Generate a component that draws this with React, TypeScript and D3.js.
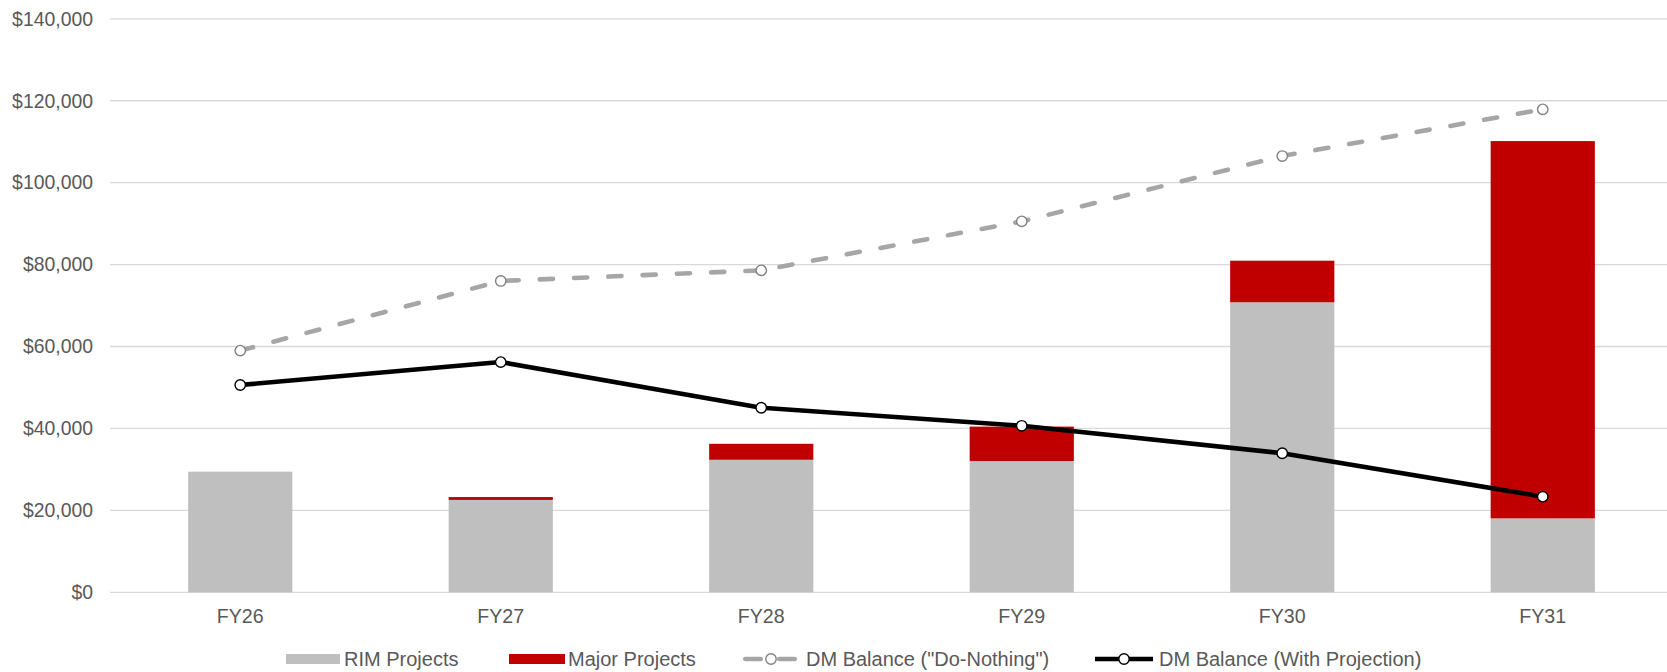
import React from "react";
import * as d3 from "d3";

// Fiscal years on the category axis
const categories = ["FY26", "FY27", "FY28", "FY29", "FY30", "FY31"];

// Stacked bar series
const rimProjects = [29450, 22550, 32350, 32050, 70800, 18050];
const majorProjects = [0, 700, 3900, 8400, 10150, 92100];

// Balance lines
const dmDoNothing = [59000, 76000, 78600, 90550, 106500, 117900];
const dmWithProjection = [50600, 56200, 45050, 40650, 33950, 23350];

// Value axis ticks
const yTicks = [0, 20000, 40000, 60000, 80000, 100000, 120000, 140000];

const legendLabels = {
  rim: "RIM Projects",
  major: "Major Projects",
  doNothing: 'DM Balance ("Do-Nothing")',
  withProj: "DM Balance (With Projection)",
};

const W = 1667;
const H = 672;
const FONT = "'Liberation Sans', Arial, sans-serif";
const TEXT = "#595959";
const GRID = "#D9D9D9";
const GRAY_BAR = "#BFBFBF";
const RED_BAR = "#C00000";
const DASH_LINE = "#A6A6A6";

export default function App() {
  const x = d3
    .scaleBand<string>()
    .domain(categories)
    .range([110, 1673])
    .paddingInner(0.6)
    .paddingOuter(0.3);
  const y = d3.scaleLinear().domain([0, 140000]).range([592.3, 18.8]);
  const cx = (c: string) => (x(c) ?? 0) + x.bandwidth() / 2;

  const line = d3
    .line<number>()
    .x((_, i) => cx(categories[i]))
    .y((v) => y(v));

  const fmt = (v: number) => "$" + d3.format(",")(v);
  const legendY = 659;
  const textBase = 665.5;
  const markerR = 5.2;

  return (
    <svg
      width={W}
      height={H}
      style={{ position: "absolute", left: 0, top: 0, background: "#fff" }}
      fontFamily={FONT}
    >
      {/* horizontal gridlines and value labels */}
      {yTicks.map((t) => (
        <g key={t}>
          <line x1={110} x2={1673} y1={y(t)} y2={y(t)} stroke={GRID} strokeWidth={1.3} />
          <text x={93} y={y(t)} dy="0.35em" textAnchor="end" fontSize={19.4} fill={TEXT}>
            {fmt(t)}
          </text>
        </g>
      ))}

      {/* stacked bars */}
      {categories.map((c, i) => (
        <g key={c}>
          <rect
            x={x(c)}
            width={x.bandwidth()}
            y={y(rimProjects[i])}
            height={y(0) - y(rimProjects[i])}
            fill={GRAY_BAR}
          />
          {majorProjects[i] > 0 && (
            <rect
              x={x(c)}
              width={x.bandwidth()}
              y={y(rimProjects[i] + majorProjects[i])}
              height={y(rimProjects[i]) - y(rimProjects[i] + majorProjects[i])}
              fill={RED_BAR}
            />
          )}
        </g>
      ))}

      {/* category labels */}
      {categories.map((c) => (
        <text key={c} x={cx(c)} y={622.7} textAnchor="middle" fontSize={19.6} fill={TEXT}>
          {c}
        </text>
      ))}

      {/* "Do-Nothing" balance */}
      <path
        d={line(dmDoNothing) ?? ""}
        fill="none"
        stroke={DASH_LINE}
        strokeWidth={4.6}
        strokeDasharray="13.2 21.1"
        strokeLinecap="round"
        strokeLinejoin="round"
      />
      {/* balance with projection */}
      <path
        d={line(dmWithProjection) ?? ""}
        fill="none"
        stroke="#000"
        strokeWidth={4.6}
        strokeLinejoin="round"
      />
      {dmDoNothing.map((v, i) => (
        <circle key={"dn" + i} cx={cx(categories[i])} cy={y(v)} r={markerR} fill="#fff" stroke="#808080" strokeWidth={1.4} />
      ))}
      {dmWithProjection.map((v, i) => (
        <circle key={"wp" + i} cx={cx(categories[i])} cy={y(v)} r={markerR} fill="#fff" stroke="#000" strokeWidth={1.4} />
      ))}

      {/* legend */}
      <g fontSize={20} fill={TEXT}>
        <rect x={286} y={legendY - 5} width={54} height={10} fill={GRAY_BAR} />
        <text x={344} y={textBase}>{legendLabels.rim}</text>

        <rect x={509} y={legendY - 5} width={56} height={10} fill={RED_BAR} />
        <text x={568} y={textBase}>{legendLabels.major}</text>

        <line
          x1={745.25}
          x2={794.75}
          y1={legendY}
          y2={legendY}
          stroke={DASH_LINE}
          strokeWidth={4.6}
          strokeLinecap="round"
          strokeDasharray="15.5 18.5"
        />
        <circle cx={771} cy={legendY} r={markerR} fill="#fff" stroke="#808080" strokeWidth={1.4} />
        <text x={806} y={textBase}>{legendLabels.doNothing}</text>

        <line x1={1095} x2={1153} y1={legendY} y2={legendY} stroke="#000" strokeWidth={4.6} />
        <circle cx={1124} cy={legendY} r={markerR} fill="#fff" stroke="#000" strokeWidth={1.4} />
        <text x={1159} y={textBase}>{legendLabels.withProj}</text>
      </g>
    </svg>
  );
}
